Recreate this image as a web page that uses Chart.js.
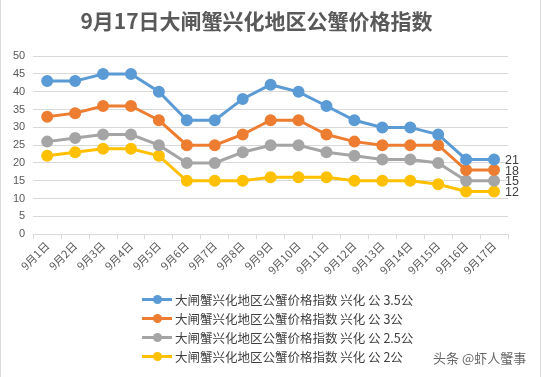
<!DOCTYPE html>
<html>
<head>
<meta charset="utf-8">
<script src="https://cdn.jsdelivr.net/npm/chart.js@4/dist/chart.umd.min.js"></script>
<style>
  html, body { margin: 0; padding: 0; background: #fff; }
  #wrap { position: relative; width: 541px; height: 377px; overflow: hidden; border-right: 1px solid #d9d9d9; box-sizing: border-box; border-left: 1px solid #d9d9d9; }
  #box { position: absolute; left: 0; top: 0; width: 539px; height: 377px; }
  #legend { position: absolute; left: 141px; top: 290px; font-family: "Noto Sans CJK SC", sans-serif; font-size: 12.5px; color: #404040; }
  .item { height: 19px; line-height: 19px; display: flex; align-items: center; white-space: nowrap; }
  .mark { position: relative; width: 30px; height: 19px; margin-right: 3px; }
  .mark .ln { position: absolute; left: 0; right: 0; top: 8px; height: 3px; }
  .mark .dot { position: absolute; left: 11px; top: 5px; width: 9px; height: 9px; border-radius: 50%; }
  #mark { position: absolute; left: 432px; top: 348px; font-family: "Noto Sans CJK SC", sans-serif; font-size: 13px; color: #666; }
</style>
</head>
<body>
<div id="wrap">
  <div id="box"><canvas id="chart"></canvas></div>
  <div id="legend"></div>
  <div id="mark">头条 @虾人蟹事</div>
</div>
<script>
const days = ["9月1日", "9月2日", "9月3日", "9月4日", "9月5日", "9月6日", "9月7日", "9月8日", "9月9日",
  "9月10日", "9月11日", "9月12日", "9月13日", "9月14日", "9月15日", "9月16日", "9月17日"];
const seriesNames = [
  "大闸蟹兴化地区公蟹价格指数 兴化 公 3.5公",
  "大闸蟹兴化地区公蟹价格指数 兴化 公 3公",
  "大闸蟹兴化地区公蟹价格指数 兴化 公 2.5公",
  "大闸蟹兴化地区公蟹价格指数 兴化 公 2公"
];
const male35 = [43, 43, 45, 45, 40, 32, 32, 38, 42, 40, 36, 32, 30, 30, 28, 21, 21];
const male3 = [33, 34, 36, 36, 32, 25, 25, 28, 32, 32, 28, 26, 25, 25, 25, 18, 18];
const male25 = [26, 27, 28, 28, 25, 20, 20, 23, 25, 25, 23, 22, 21, 21, 20, 15, 15];
const male2 = [22, 23, 24, 24, 22, 15, 15, 15, 16, 16, 16, 15, 15, 15, 14, 12, 12];
const colors = ["#5b9bd5", "#ed7d31", "#a5a5a5", "#ffc000"];

const values = [male35, male3, male25, male2];

const endLabels = {
  id: "endLabels",
  afterDatasetsDraw(chart) {
    const ctx = chart.ctx;
    ctx.save();
    ctx.font = "12.5px 'Liberation Sans', sans-serif";
    ctx.fillStyle = "#404040";
    ctx.textBaseline = "middle";
    chart.data.datasets.forEach((ds, i) => {
      const pts = chart.getDatasetMeta(i).data;
      const last = pts[pts.length - 1];
      ctx.fillText(String(ds.data[ds.data.length - 1]), last.x + 11, last.y + 1);
    });
    ctx.restore();
  }
};

new Chart(document.getElementById("chart"), {
  type: "line",
  data: {
    labels: days,
    datasets: values.map((v, i) => ({
      label: seriesNames[i],
      data: v,
      borderColor: colors[i],
      backgroundColor: colors[i],
      borderWidth: 3,
      pointRadius: 4.5,
      pointHoverRadius: 4.5,
      tension: 0
    }))
  },
  options: {
    responsive: true,
    maintainAspectRatio: false,
    animation: false,
    layout: { padding: { left: 4, right: 32, top: 8, bottom: 100 } },
    plugins: {
      legend: { display: false },
      tooltip: { enabled: false },
      title: {
        display: true,
        text: "9月17日大闸蟹兴化地区公蟹价格指数",
        color: "#595959",
        font: { family: "'Noto Sans CJK SC', sans-serif", size: 21, weight: "bold" },
        padding: { top: 0, bottom: 23 }
      }
    },
    scales: {
      x: {
        offset: true,
        grid: { offset: true, drawOnChartArea: false, color: "#d9d9d9", tickLength: 5 },
        border: { color: "#d9d9d9" },
        ticks: {
          color: "#595959",
          font: { family: "'Noto Sans CJK SC', sans-serif", size: 11 },
          maxRotation: 45,
          minRotation: 45,
          autoSkip: false,
          padding: 0
        }
      },
      y: {
        min: 0,
        max: 50,
        grid: { color: "#d9d9d9", drawTicks: false },
        border: { display: false },
        ticks: {
          stepSize: 5,
          color: "#595959",
          font: { family: "'Liberation Sans', sans-serif", size: 11 },
          padding: 8
        }
      }
    }
  },
  plugins: [endLabels]
});

const legend = document.getElementById("legend");
seriesNames.forEach((name, i) => {
  const row = document.createElement("div");
  row.className = "item";
  row.innerHTML = '<span class="mark"><span class="ln" style="background:' + colors[i] +
    '"></span><span class="dot" style="background:' + colors[i] + '"></span></span><span>' + name + '</span>';
  legend.appendChild(row);
});
</script>
</body>
</html>
